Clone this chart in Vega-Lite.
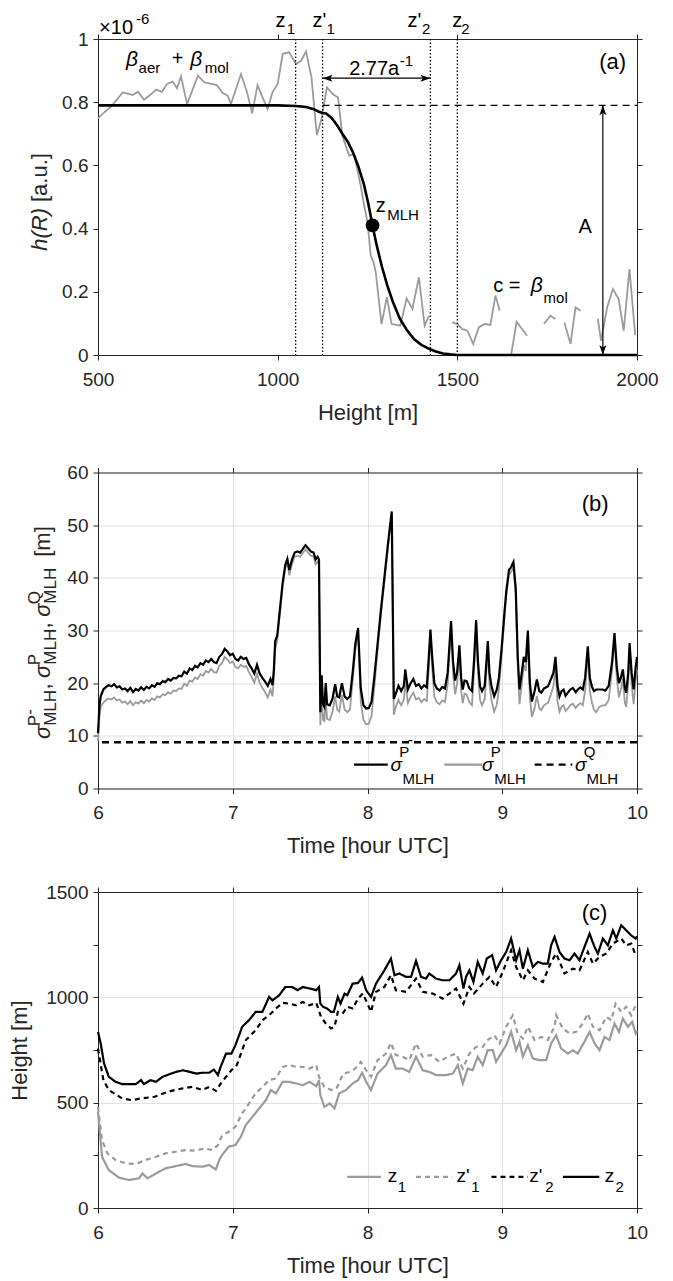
{
  "$schema": "https://vega.github.io/schema/vega-lite/v6.json",
  "background": "white",
  "padding": {"left": 8, "top": 10, "right": 5, "bottom": 2},
  "spacing": 26.5,
  "resolve": {"scale": {"color": "independent", "strokeDash": "independent", "shape": "independent"}},
  "config": {
    "font": "Liberation Sans",
    "view": {"stroke": null},
    "axis": {"domainColor": "#262626", "domainWidth": 1, "tickColor": "#262626", "tickSize": 5, "tickWidth": 1, "labelColor": "#262626", "labelFont": "Liberation Sans", "labelFontSize": 19, "titleColor": "#262626", "titleFont": "Liberation Sans", "titleFontSize": 22, "titleFontWeight": "normal", "grid": false, "gridColor": "#e2e2e2", "gridWidth": 1, "labelFlush": false, "labelOverlap": false},
    "axisX": {"labelPadding": 10, "titlePadding": 13},
    "axisY": {"labelPadding": 5, "titlePadding": 14},
    "text": {"font": "Liberation Sans", "color": "#000000"}
  },
  "datasets": {
    "betaA": [
      {"x":500,"y":0.749,"seg":1},{"x":509,"y":0.759,"seg":1},{"x":537,"y":0.787,"seg":1},{"x":569,"y":0.831,"seg":1},{"x":597,"y":0.823,"seg":1},{"x":611,"y":0.833,"seg":1},{"x":628,"y":0.808,"seg":1},{"x":643,"y":0.821,"seg":1},{"x":662,"y":0.84,"seg":1},{"x":678,"y":0.833,"seg":1},{"x":692,"y":0.858,"seg":1},{"x":708,"y":0.865,"seg":1},{"x":720,"y":0.844,"seg":1},{"x":731,"y":0.882,"seg":1},{"x":748,"y":0.794,"seg":1},{"x":778,"y":0.884,"seg":1},{"x":796,"y":0.863,"seg":1},{"x":815,"y":0.858,"seg":1},{"x":831,"y":0.854,"seg":1},{"x":847,"y":0.829,"seg":1},{"x":861,"y":0.821,"seg":1},{"x":870,"y":0.794,"seg":1},{"x":898,"y":0.889,"seg":1},{"x":915,"y":0.831,"seg":1},{"x":929,"y":0.765,"seg":1},{"x":944,"y":0.854,"seg":1},{"x":958,"y":0.815,"seg":1},{"x":972,"y":0.778,"seg":1},{"x":986,"y":0.833,"seg":1},{"x":1000,"y":0.858,"seg":1},{"x":1014,"y":0.953,"seg":1},{"x":1032,"y":0.958,"seg":1},{"x":1051,"y":0.921,"seg":1},{"x":1065,"y":0.931,"seg":1},{"x":1079,"y":0.96,"seg":1},{"x":1094,"y":0.879,"seg":1},{"x":1109,"y":0.696,"seg":1},{"x":1122,"y":0.747,"seg":1},{"x":1137,"y":0.847,"seg":1},{"x":1153,"y":0.826,"seg":1},{"x":1168,"y":0.815,"seg":1},{"x":1180,"y":0.694,"seg":1},{"x":1199,"y":0.631,"seg":1},{"x":1213,"y":0.636,"seg":1},{"x":1231,"y":0.536,"seg":1},{"x":1241,"y":0.472,"seg":1},{"x":1250,"y":0.42,"seg":1},{"x":1259,"y":0.314,"seg":1},{"x":1267,"y":0.293,"seg":1},{"x":1273,"y":0.262,"seg":1},{"x":1289,"y":0.098,"seg":1},{"x":1304,"y":0.183,"seg":1},{"x":1317,"y":0.098,"seg":1},{"x":1341,"y":0.093,"seg":1},{"x":1359,"y":0.179,"seg":1},{"x":1375,"y":0.146,"seg":1},{"x":1393,"y":0.246,"seg":1},{"x":1409,"y":0.093,"seg":1},{"x":1421,"y":0.124,"seg":1},
      {"x":1486,"y":0.103,"seg":2},{"x":1500,"y":0.098,"seg":2},{"x":1514,"y":0.082,"seg":2},{"x":1528,"y":0.077,"seg":2},{"x":1544,"y":0.035,"seg":2},{"x":1560,"y":0.088,"seg":2},{"x":1576,"y":0.098,"seg":2},{"x":1592,"y":0.095,"seg":2},{"x":1606,"y":0.188,"seg":2},{"x":1618,"y":0.14,"seg":2},
      {"x":1650,"y":0.003,"seg":3},{"x":1665,"y":0.105,"seg":3},{"x":1694,"y":0.061,"seg":3},
      {"x":1741,"y":0.098,"seg":4},{"x":1759,"y":0.124,"seg":4},{"x":1773,"y":0.114,"seg":4},
      {"x":1798,"y":0.103,"seg":5},{"x":1815,"y":0.035,"seg":5},{"x":1829,"y":0.151,"seg":5},{"x":1843,"y":0.14,"seg":5},
      {"x":1891,"y":0.114,"seg":6},{"x":1900,"y":0.045,"seg":6},{"x":1917,"y":0.151,"seg":6},{"x":1933,"y":0.209,"seg":6},{"x":1949,"y":0.177,"seg":6},{"x":1963,"y":0.077,"seg":6},{"x":1979,"y":0.272,"seg":6},{"x":1995,"y":0.063,"seg":6}
    ],
    "fitA": [
      {"x":500,"y":0.79},{"x":1000,"y":0.79},{"x":1050,"y":0.788},{"x":1080,"y":0.785},{"x":1100,"y":0.778},{"x":1115,"y":0.77},{"x":1125,"y":0.766},{"x":1135,"y":0.764},{"x":1150,"y":0.75},{"x":1165,"y":0.728},{"x":1180,"y":0.7},{"x":1195,"y":0.675},{"x":1210,"y":0.64},{"x":1225,"y":0.595},{"x":1240,"y":0.54},{"x":1252,"y":0.48},{"x":1264,"y":0.41},{"x":1275,"y":0.35},{"x":1290,"y":0.28},{"x":1305,"y":0.22},{"x":1320,"y":0.17},{"x":1340,"y":0.115},{"x":1360,"y":0.078},{"x":1380,"y":0.05},{"x":1400,"y":0.032},{"x":1420,"y":0.02},{"x":1440,"y":0.011},{"x":1460,"y":0.005},{"x":1480,"y":0.002},{"x":1500,"y":0.0},{"x":2000,"y":0.0}
    ],
    "sigB": [
      {"t":6.0,"pm":10.5,"p":9.0},{"t":6.01,"pm":15.5,"p":13.5},{"t":6.02,"pm":17.5,"p":15.5},{"t":6.04,"pm":18.8,"p":16.3},{"t":6.06,"pm":19.3,"p":16.8},{"t":6.08,"pm":19.6,"p":17.1},{"t":6.1,"pm":19.4,"p":16.9},{"t":6.12,"pm":19.8,"p":17.3},{"t":6.14,"pm":19.2,"p":16.7},{"t":6.16,"pm":19.4,"p":16.9},{"t":6.18,"pm":18.8,"p":16.3},{"t":6.2,"pm":19.0,"p":16.5},{"t":6.22,"pm":18.5,"p":16.0},{"t":6.24,"pm":19.1,"p":16.6},{"t":6.26,"pm":18.3,"p":15.8},{"t":6.28,"pm":18.9,"p":16.4},{"t":6.3,"pm":18.6,"p":16.1},{"t":6.32,"pm":19.2,"p":16.7},{"t":6.34,"pm":18.7,"p":16.2},{"t":6.36,"pm":19.3,"p":16.8},{"t":6.38,"pm":19.0,"p":16.5},{"t":6.4,"pm":19.6,"p":17.1},{"t":6.42,"pm":19.3,"p":16.8},{"t":6.44,"pm":20.0,"p":17.5},{"t":6.46,"pm":19.8,"p":17.3},{"t":6.48,"pm":20.4,"p":17.9},{"t":6.5,"pm":20.2,"p":17.7},{"t":6.52,"pm":20.8,"p":18.3},{"t":6.54,"pm":20.5,"p":18.0},{"t":6.56,"pm":21.0,"p":18.6},{"t":6.58,"pm":20.9,"p":18.5},{"t":6.6,"pm":21.4,"p":19.0},{"t":6.62,"pm":21.3,"p":18.9},{"t":6.64,"pm":22.2,"p":19.9},{"t":6.66,"pm":21.8,"p":19.5},{"t":6.68,"pm":22.8,"p":20.5},{"t":6.7,"pm":22.5,"p":20.3},{"t":6.72,"pm":23.3,"p":21.1},{"t":6.74,"pm":23.0,"p":20.8},{"t":6.76,"pm":23.8,"p":21.7},{"t":6.78,"pm":23.5,"p":21.4},{"t":6.8,"pm":24.3,"p":22.3},{"t":6.82,"pm":24.0,"p":22.0},{"t":6.84,"pm":24.6,"p":22.7},{"t":6.86,"pm":24.0,"p":22.1},{"t":6.88,"pm":23.8,"p":22.0},{"t":6.9,"pm":25.0,"p":23.3},{"t":6.92,"pm":25.5,"p":23.8},{"t":6.94,"pm":26.5,"p":25.0},{"t":6.96,"pm":26.0,"p":24.5},{"t":6.98,"pm":25.3,"p":23.8},{"t":7.0,"pm":25.6,"p":24.1},{"t":7.02,"pm":24.6,"p":23.1},{"t":7.04,"pm":24.3,"p":22.8},{"t":7.06,"pm":25.0,"p":23.5},{"t":7.08,"pm":24.6,"p":23.1},{"t":7.1,"pm":24.8,"p":23.3},{"t":7.12,"pm":23.6,"p":22.1},{"t":7.14,"pm":22.8,"p":21.2},{"t":7.16,"pm":21.8,"p":20.1},{"t":7.18,"pm":23.5,"p":21.8},{"t":7.2,"pm":21.8,"p":20.0},{"t":7.22,"pm":21.0,"p":19.1},{"t":7.24,"pm":20.3,"p":18.3},{"t":7.26,"pm":19.5,"p":17.3},{"t":7.28,"pm":20.8,"p":18.8},{"t":7.295,"pm":19.6,"p":17.5},{"t":7.305,"pm":22.5,"p":21.0},{"t":7.315,"pm":28.0,"p":26.5},{"t":7.33,"pm":29.0,"p":28.0},{"t":7.35,"pm":34.0,"p":33.2},{"t":7.37,"pm":39.0,"p":38.3},{"t":7.39,"pm":42.5,"p":41.8},{"t":7.405,"pm":43.6,"p":42.8},{"t":7.42,"pm":41.5,"p":40.5},{"t":7.44,"pm":43.5,"p":42.7},{"t":7.46,"pm":44.8,"p":44.0},{"t":7.48,"pm":45.0,"p":44.2},{"t":7.5,"pm":44.8,"p":44.0},{"t":7.52,"pm":45.5,"p":44.7},{"t":7.54,"pm":46.2,"p":45.4},{"t":7.56,"pm":45.6,"p":44.8},{"t":7.58,"pm":45.0,"p":44.2},{"t":7.6,"pm":44.8,"p":44.0},{"t":7.615,"pm":43.5,"p":42.6},{"t":7.63,"pm":44.0,"p":43.1},{"t":7.64,"pm":43.5,"p":42.5},{"t":7.65,"pm":14.5,"p":12.0},{"t":7.66,"pm":21.5,"p":19.0},{"t":7.67,"pm":16.0,"p":13.0},{"t":7.68,"pm":15.5,"p":12.8},{"t":7.69,"pm":20.0,"p":17.2},{"t":7.7,"pm":16.0,"p":13.2},{"t":7.72,"pm":15.8,"p":13.0},{"t":7.74,"pm":17.0,"p":14.5},{"t":7.76,"pm":19.8,"p":17.5},{"t":7.775,"pm":17.5,"p":15.0},{"t":7.79,"pm":17.3,"p":14.6},{"t":7.81,"pm":20.0,"p":17.8},{"t":7.83,"pm":17.5,"p":15.0},{"t":7.85,"pm":17.0,"p":14.5},{"t":7.87,"pm":17.5,"p":15.0},{"t":7.89,"pm":22.0,"p":20.5},{"t":7.91,"pm":27.5,"p":26.5},{"t":7.93,"pm":30.5,"p":29.8},{"t":7.95,"pm":19.0,"p":16.5},{"t":7.97,"pm":15.8,"p":13.0},{"t":7.99,"pm":15.2,"p":12.2},{"t":8.01,"pm":15.3,"p":12.3},{"t":8.03,"pm":16.5,"p":13.8},{"t":8.05,"pm":21.0,"p":19.0},{"t":8.075,"pm":27.5,"p":26.3},{"t":8.1,"pm":34.0,"p":33.0},{"t":8.125,"pm":40.0,"p":39.2},{"t":8.15,"pm":46.0,"p":45.3},{"t":8.17,"pm":50.5,"p":49.9},{"t":8.18,"pm":52.6,"p":52.0},{"t":8.195,"pm":17.0,"p":14.0},{"t":8.21,"pm":18.0,"p":15.5},{"t":8.23,"pm":19.5,"p":16.8},{"t":8.25,"pm":18.5,"p":15.8},{"t":8.27,"pm":19.5,"p":16.9},{"t":8.28,"pm":22.6,"p":20.3},{"t":8.3,"pm":18.8,"p":16.2},{"t":8.32,"pm":20.0,"p":17.4},{"t":8.34,"pm":20.8,"p":18.2},{"t":8.36,"pm":19.5,"p":16.9},{"t":8.38,"pm":19.8,"p":17.2},{"t":8.4,"pm":19.0,"p":16.4},{"t":8.42,"pm":19.6,"p":17.0},{"t":8.44,"pm":19.2,"p":16.6},{"t":8.455,"pm":25.0,"p":23.0},{"t":8.467,"pm":30.2,"p":29.4},{"t":8.48,"pm":25.0,"p":23.0},{"t":8.496,"pm":20.0,"p":17.4},{"t":8.515,"pm":19.0,"p":16.4},{"t":8.535,"pm":18.6,"p":16.0},{"t":8.555,"pm":19.3,"p":16.7},{"t":8.575,"pm":19.0,"p":16.4},{"t":8.595,"pm":22.0,"p":19.8},{"t":8.62,"pm":31.8,"p":31.0},{"t":8.635,"pm":24.0,"p":22.0},{"t":8.65,"pm":20.5,"p":17.9},{"t":8.665,"pm":22.0,"p":19.8},{"t":8.682,"pm":27.2,"p":26.2},{"t":8.695,"pm":21.0,"p":18.6},{"t":8.707,"pm":18.8,"p":16.2},{"t":8.72,"pm":20.5,"p":18.0},{"t":8.736,"pm":20.4,"p":17.8},{"t":8.755,"pm":19.0,"p":16.4},{"t":8.775,"pm":18.5,"p":15.8},{"t":8.79,"pm":24.0,"p":22.0},{"t":8.806,"pm":32.0,"p":31.2},{"t":8.82,"pm":24.0,"p":22.0},{"t":8.835,"pm":19.4,"p":16.8},{"t":8.85,"pm":18.5,"p":15.8},{"t":8.87,"pm":19.5,"p":17.0},{"t":8.893,"pm":28.0,"p":26.8},{"t":8.905,"pm":22.0,"p":19.8},{"t":8.92,"pm":19.4,"p":16.8},{"t":8.94,"pm":17.5,"p":14.6},{"t":8.96,"pm":18.8,"p":16.0},{"t":8.975,"pm":21.0,"p":18.8},{"t":8.995,"pm":26.5,"p":25.3},{"t":9.015,"pm":33.0,"p":32.0},{"t":9.03,"pm":37.5,"p":36.6},{"t":9.05,"pm":41.5,"p":40.6},{"t":9.065,"pm":42.0,"p":41.1},{"t":9.083,"pm":43.0,"p":42.0},{"t":9.1,"pm":38.0,"p":37.0},{"t":9.115,"pm":25.0,"p":23.5},{"t":9.128,"pm":18.8,"p":16.0},{"t":9.145,"pm":22.0,"p":19.8},{"t":9.16,"pm":25.0,"p":23.5},{"t":9.175,"pm":24.0,"p":22.3},{"t":9.19,"pm":30.0,"p":29.2},{"t":9.205,"pm":20.0,"p":17.3},{"t":9.22,"pm":16.5,"p":13.6},{"t":9.24,"pm":18.5,"p":15.3},{"t":9.257,"pm":20.7,"p":17.6},{"t":9.275,"pm":18.5,"p":15.2},{"t":9.29,"pm":18.2,"p":14.9},{"t":9.31,"pm":19.0,"p":15.8},{"t":9.34,"pm":19.4,"p":16.3},{"t":9.365,"pm":21.0,"p":18.2},{"t":9.38,"pm":22.0,"p":19.5},{"t":9.395,"pm":25.0,"p":23.0},{"t":9.41,"pm":19.5,"p":16.6},{"t":9.425,"pm":17.5,"p":14.6},{"t":9.44,"pm":18.5,"p":15.5},{"t":9.455,"pm":18.8,"p":15.8},{"t":9.47,"pm":17.6,"p":14.7},{"t":9.487,"pm":18.2,"p":15.2},{"t":9.505,"pm":18.8,"p":15.8},{"t":9.524,"pm":19.1,"p":16.1},{"t":9.545,"pm":18.3,"p":15.3},{"t":9.561,"pm":18.8,"p":15.8},{"t":9.58,"pm":19.2,"p":16.2},{"t":9.598,"pm":18.8,"p":15.8},{"t":9.615,"pm":21.0,"p":18.6},{"t":9.635,"pm":27.0,"p":26.0},{"t":9.65,"pm":21.0,"p":18.5},{"t":9.665,"pm":19.4,"p":16.4},{"t":9.68,"pm":18.5,"p":15.0},{"t":9.697,"pm":18.8,"p":14.5},{"t":9.72,"pm":18.8,"p":15.5},{"t":9.745,"pm":18.8,"p":15.8},{"t":9.765,"pm":18.6,"p":15.8},{"t":9.79,"pm":19.5,"p":16.8},{"t":9.815,"pm":24.0,"p":22.5},{"t":9.833,"pm":29.5,"p":28.7},{"t":9.85,"pm":23.0,"p":21.0},{"t":9.866,"pm":20.0,"p":17.3},{"t":9.88,"pm":21.0,"p":18.8},{"t":9.895,"pm":22.6,"p":20.8},{"t":9.91,"pm":19.0,"p":16.3},{"t":9.92,"pm":18.2,"p":15.5},{"t":9.935,"pm":22.0,"p":20.0},{"t":9.945,"pm":27.6,"p":26.6},{"t":9.96,"pm":22.0,"p":19.8},{"t":9.975,"pm":18.8,"p":16.0},{"t":9.99,"pm":23.0,"p":20.5},{"t":10.0,"pm":25.0,"p":22.5}
    ],
    "zC": [
      {"s":"z2","t":6.0,"h":836},{"s":"z2","t":6.02,"h":781},{"s":"z2","t":6.045,"h":686},{"s":"z2","t":6.08,"h":623},{"s":"z2","t":6.13,"h":599},{"s":"z2","t":6.18,"h":588},{"s":"z2","t":6.23,"h":588},{"s":"z2","t":6.28,"h":588},{"s":"z2","t":6.32,"h":607},{"s":"z2","t":6.34,"h":588},{"s":"z2","t":6.39,"h":607},{"s":"z2","t":6.43,"h":599},{"s":"z2","t":6.48,"h":623},{"s":"z2","t":6.53,"h":635},{"s":"z2","t":6.58,"h":646},{"s":"z2","t":6.63,"h":654},{"s":"z2","t":6.68,"h":646},{"s":"z2","t":6.73,"h":638},{"s":"z2","t":6.775,"h":642},{"s":"z2","t":6.825,"h":642},{"s":"z2","t":6.86,"h":657},{"s":"z2","t":6.89,"h":631},{"s":"z2","t":6.91,"h":670},{"s":"z2","t":6.95,"h":733},{"s":"z2","t":6.99,"h":733},{"s":"z2","t":7.02,"h":773},{"s":"z2","t":7.07,"h":860},{"s":"z2","t":7.12,"h":891},{"s":"z2","t":7.17,"h":931},{"s":"z2","t":7.22,"h":931},{"s":"z2","t":7.27,"h":1002},{"s":"z2","t":7.295,"h":986},{"s":"z2","t":7.345,"h":1010},{"s":"z2","t":7.39,"h":1049},{"s":"z2","t":7.44,"h":1049},{"s":"z2","t":7.48,"h":1034},{"s":"z2","t":7.52,"h":1049},{"s":"z2","t":7.57,"h":1042},{"s":"z2","t":7.62,"h":1034},{"s":"z2","t":7.64,"h":1049},{"s":"z2","t":7.65,"h":970},{"s":"z2","t":7.67,"h":955},{"s":"z2","t":7.7,"h":947},{"s":"z2","t":7.73,"h":931},{"s":"z2","t":7.75,"h":931},{"s":"z2","t":7.78,"h":1002},{"s":"z2","t":7.8,"h":970},{"s":"z2","t":7.83,"h":1018},{"s":"z2","t":7.85,"h":1010},{"s":"z2","t":7.89,"h":1065},{"s":"z2","t":7.93,"h":1068},{"s":"z2","t":7.96,"h":1094},{"s":"z2","t":7.99,"h":1034},{"s":"z2","t":8.026,"h":1002},{"s":"z2","t":8.063,"h":1065},{"s":"z2","t":8.125,"h":1128},{"s":"z2","t":8.174,"h":1184},{"s":"z2","t":8.2,"h":1105},{"s":"z2","t":8.236,"h":1113},{"s":"z2","t":8.286,"h":1097},{"s":"z2","t":8.323,"h":1097},{"s":"z2","t":8.36,"h":1173},{"s":"z2","t":8.397,"h":1097},{"s":"z2","t":8.434,"h":1089},{"s":"z2","t":8.459,"h":1113},{"s":"z2","t":8.509,"h":1089},{"s":"z2","t":8.558,"h":1081},{"s":"z2","t":8.608,"h":1081},{"s":"z2","t":8.657,"h":1113},{"s":"z2","t":8.682,"h":1152},{"s":"z2","t":8.712,"h":1042},{"s":"z2","t":8.731,"h":1097},{"s":"z2","t":8.756,"h":1128},{"s":"z2","t":8.786,"h":1073},{"s":"z2","t":8.818,"h":1168},{"s":"z2","t":8.855,"h":1113},{"s":"z2","t":8.885,"h":1184},{"s":"z2","t":8.925,"h":1200},{"s":"z2","t":8.954,"h":1128},{"s":"z2","t":8.991,"h":1176},{"s":"z2","t":9.029,"h":1215},{"s":"z2","t":9.066,"h":1279},{"s":"z2","t":9.103,"h":1176},{"s":"z2","t":9.128,"h":1223},{"s":"z2","t":9.153,"h":1136},{"s":"z2","t":9.19,"h":1223},{"s":"z2","t":9.227,"h":1144},{"s":"z2","t":9.264,"h":1168},{"s":"z2","t":9.301,"h":1160},{"s":"z2","t":9.338,"h":1160},{"s":"z2","t":9.363,"h":1247},{"s":"z2","t":9.388,"h":1287},{"s":"z2","t":9.425,"h":1215},{"s":"z2","t":9.462,"h":1184},{"s":"z2","t":9.5,"h":1176},{"s":"z2","t":9.536,"h":1208},{"s":"z2","t":9.573,"h":1176},{"s":"z2","t":9.61,"h":1239},{"s":"z2","t":9.648,"h":1302},{"s":"z2","t":9.685,"h":1239},{"s":"z2","t":9.71,"h":1208},{"s":"z2","t":9.747,"h":1279},{"s":"z2","t":9.784,"h":1247},{"s":"z2","t":9.821,"h":1318},{"s":"z2","t":9.846,"h":1279},{"s":"z2","t":9.883,"h":1342},{"s":"z2","t":9.92,"h":1318},{"s":"z2","t":9.957,"h":1294},{"s":"z2","t":9.99,"h":1279},{"s":"z2","t":10.0,"h":1290},
      {"s":"z2p","t":6.0,"h":757},{"s":"z2p","t":6.04,"h":607},{"s":"z2p","t":6.08,"h":560},{"s":"z2p","t":6.18,"h":520},{"s":"z2p","t":6.25,"h":512},{"s":"z2p","t":6.32,"h":520},{"s":"z2p","t":6.42,"h":528},{"s":"z2p","t":6.52,"h":552},{"s":"z2p","t":6.62,"h":567},{"s":"z2p","t":6.7,"h":575},{"s":"z2p","t":6.775,"h":560},{"s":"z2p","t":6.825,"h":575},{"s":"z2p","t":6.875,"h":556},{"s":"z2p","t":6.92,"h":599},{"s":"z2p","t":6.99,"h":654},{"s":"z2p","t":7.03,"h":678},{"s":"z2p","t":7.097,"h":797},{"s":"z2p","t":7.17,"h":844},{"s":"z2p","t":7.22,"h":891},{"s":"z2p","t":7.283,"h":923},{"s":"z2p","t":7.32,"h":947},{"s":"z2p","t":7.37,"h":974},{"s":"z2p","t":7.42,"h":970},{"s":"z2p","t":7.47,"h":962},{"s":"z2p","t":7.52,"h":978},{"s":"z2p","t":7.57,"h":962},{"s":"z2p","t":7.62,"h":974},{"s":"z2p","t":7.655,"h":907},{"s":"z2p","t":7.69,"h":876},{"s":"z2p","t":7.73,"h":852},{"s":"z2p","t":7.755,"h":860},{"s":"z2p","t":7.78,"h":931},{"s":"z2p","t":7.815,"h":923},{"s":"z2p","t":7.85,"h":955},{"s":"z2p","t":7.89,"h":947},{"s":"z2p","t":7.93,"h":994},{"s":"z2p","t":7.965,"h":1018},{"s":"z2p","t":8.0,"h":970},{"s":"z2p","t":8.026,"h":931},{"s":"z2p","t":8.063,"h":1026},{"s":"z2p","t":8.125,"h":1049},{"s":"z2p","t":8.174,"h":1105},{"s":"z2p","t":8.21,"h":1034},{"s":"z2p","t":8.286,"h":1026},{"s":"z2p","t":8.36,"h":1089},{"s":"z2p","t":8.41,"h":1026},{"s":"z2p","t":8.484,"h":1018},{"s":"z2p","t":8.558,"h":994},{"s":"z2p","t":8.608,"h":1018},{"s":"z2p","t":8.657,"h":1042},{"s":"z2p","t":8.712,"h":970},{"s":"z2p","t":8.756,"h":1049},{"s":"z2p","t":8.79,"h":1018},{"s":"z2p","t":8.855,"h":1065},{"s":"z2p","t":8.905,"h":1097},{"s":"z2p","t":8.954,"h":1049},{"s":"z2p","t":9.004,"h":1121},{"s":"z2p","t":9.066,"h":1223},{"s":"z2p","t":9.103,"h":1144},{"s":"z2p","t":9.153,"h":1081},{"s":"z2p","t":9.19,"h":1128},{"s":"z2p","t":9.24,"h":1089},{"s":"z2p","t":9.301,"h":1073},{"s":"z2p","t":9.363,"h":1168},{"s":"z2p","t":9.4,"h":1208},{"s":"z2p","t":9.462,"h":1113},{"s":"z2p","t":9.524,"h":1136},{"s":"z2p","t":9.573,"h":1128},{"s":"z2p","t":9.635,"h":1215},{"s":"z2p","t":9.673,"h":1160},{"s":"z2p","t":9.722,"h":1192},{"s":"z2p","t":9.772,"h":1208},{"s":"z2p","t":9.821,"h":1255},{"s":"z2p","t":9.883,"h":1279},{"s":"z2p","t":9.92,"h":1247},{"s":"z2p","t":9.957,"h":1255},{"s":"z2p","t":9.99,"h":1200},
      {"s":"z1","t":6.0,"h":457},{"s":"z1","t":6.03,"h":243},{"s":"z1","t":6.08,"h":180},{"s":"z1","t":6.156,"h":144},{"s":"z1","t":6.23,"h":133},{"s":"z1","t":6.305,"h":141},{"s":"z1","t":6.33,"h":164},{"s":"z1","t":6.367,"h":141},{"s":"z1","t":6.43,"h":164},{"s":"z1","t":6.5,"h":188},{"s":"z1","t":6.577,"h":199},{"s":"z1","t":6.65,"h":209},{"s":"z1","t":6.7,"h":199},{"s":"z1","t":6.775,"h":196},{"s":"z1","t":6.825,"h":204},{"s":"z1","t":6.874,"h":183},{"s":"z1","t":6.9,"h":228},{"s":"z1","t":6.92,"h":251},{"s":"z1","t":6.97,"h":291},{"s":"z1","t":7.02,"h":299},{"s":"z1","t":7.06,"h":338},{"s":"z1","t":7.097,"h":394},{"s":"z1","t":7.147,"h":433},{"s":"z1","t":7.196,"h":473},{"s":"z1","t":7.246,"h":512},{"s":"z1","t":7.283,"h":560},{"s":"z1","t":7.32,"h":544},{"s":"z1","t":7.37,"h":599},{"s":"z1","t":7.42,"h":599},{"s":"z1","t":7.47,"h":591},{"s":"z1","t":7.52,"h":583},{"s":"z1","t":7.57,"h":599},{"s":"z1","t":7.62,"h":578},{"s":"z1","t":7.64,"h":607},{"s":"z1","t":7.65,"h":536},{"s":"z1","t":7.68,"h":480},{"s":"z1","t":7.72,"h":496},{"s":"z1","t":7.755,"h":473},{"s":"z1","t":7.79,"h":544},{"s":"z1","t":7.84,"h":560},{"s":"z1","t":7.89,"h":591},{"s":"z1","t":7.93,"h":607},{"s":"z1","t":7.96,"h":642},{"s":"z1","t":7.99,"h":599},{"s":"z1","t":8.026,"h":560},{"s":"z1","t":8.075,"h":638},{"s":"z1","t":8.137,"h":678},{"s":"z1","t":8.174,"h":726},{"s":"z1","t":8.21,"h":662},{"s":"z1","t":8.26,"h":662},{"s":"z1","t":8.31,"h":646},{"s":"z1","t":8.36,"h":718},{"s":"z1","t":8.41,"h":654},{"s":"z1","t":8.459,"h":646},{"s":"z1","t":8.509,"h":631},{"s":"z1","t":8.583,"h":631},{"s":"z1","t":8.633,"h":638},{"s":"z1","t":8.67,"h":678},{"s":"z1","t":8.707,"h":591},{"s":"z1","t":8.744,"h":662},{"s":"z1","t":8.78,"h":654},{"s":"z1","t":8.818,"h":718},{"s":"z1","t":8.855,"h":678},{"s":"z1","t":8.892,"h":749},{"s":"z1","t":8.93,"h":749},{"s":"z1","t":8.954,"h":694},{"s":"z1","t":8.991,"h":733},{"s":"z1","t":9.029,"h":773},{"s":"z1","t":9.066,"h":836},{"s":"z1","t":9.103,"h":749},{"s":"z1","t":9.128,"h":789},{"s":"z1","t":9.153,"h":718},{"s":"z1","t":9.19,"h":773},{"s":"z1","t":9.227,"h":710},{"s":"z1","t":9.276,"h":702},{"s":"z1","t":9.326,"h":702},{"s":"z1","t":9.363,"h":781},{"s":"z1","t":9.4,"h":820},{"s":"z1","t":9.437,"h":757},{"s":"z1","t":9.487,"h":733},{"s":"z1","t":9.524,"h":749},{"s":"z1","t":9.56,"h":733},{"s":"z1","t":9.61,"h":789},{"s":"z1","t":9.648,"h":836},{"s":"z1","t":9.685,"h":781},{"s":"z1","t":9.722,"h":749},{"s":"z1","t":9.759,"h":812},{"s":"z1","t":9.796,"h":797},{"s":"z1","t":9.833,"h":876},{"s":"z1","t":9.866,"h":836},{"s":"z1","t":9.895,"h":899},{"s":"z1","t":9.933,"h":860},{"s":"z1","t":9.965,"h":884},{"s":"z1","t":9.99,"h":828},{"s":"z1","t":10.0,"h":840},
      {"s":"z1p","t":6.0,"h":480},{"s":"z1p","t":6.03,"h":322},{"s":"z1p","t":6.07,"h":259},{"s":"z1p","t":6.13,"h":228},{"s":"z1p","t":6.205,"h":212},{"s":"z1p","t":6.28,"h":209},{"s":"z1p","t":6.354,"h":228},{"s":"z1p","t":6.43,"h":243},{"s":"z1p","t":6.5,"h":259},{"s":"z1p","t":6.577,"h":267},{"s":"z1p","t":6.65,"h":275},{"s":"z1p","t":6.725,"h":272},{"s":"z1p","t":6.79,"h":283},{"s":"z1p","t":6.85,"h":275},{"s":"z1p","t":6.89,"h":299},{"s":"z1p","t":6.92,"h":343},{"s":"z1p","t":6.97,"h":362},{"s":"z1p","t":7.02,"h":386},{"s":"z1p","t":7.07,"h":449},{"s":"z1p","t":7.12,"h":496},{"s":"z1p","t":7.17,"h":544},{"s":"z1p","t":7.22,"h":575},{"s":"z1p","t":7.27,"h":607},{"s":"z1p","t":7.32,"h":615},{"s":"z1p","t":7.37,"h":670},{"s":"z1p","t":7.42,"h":678},{"s":"z1p","t":7.47,"h":670},{"s":"z1p","t":7.52,"h":670},{"s":"z1p","t":7.57,"h":662},{"s":"z1p","t":7.62,"h":678},{"s":"z1p","t":7.64,"h":623},{"s":"z1p","t":7.68,"h":575},{"s":"z1p","t":7.73,"h":560},{"s":"z1p","t":7.77,"h":567},{"s":"z1p","t":7.82,"h":638},{"s":"z1p","t":7.87,"h":646},{"s":"z1p","t":7.91,"h":662},{"s":"z1p","t":7.95,"h":694},{"s":"z1p","t":7.99,"h":654},{"s":"z1p","t":8.026,"h":623},{"s":"z1p","t":8.075,"h":702},{"s":"z1p","t":8.137,"h":733},{"s":"z1p","t":8.174,"h":784},{"s":"z1p","t":8.21,"h":726},{"s":"z1p","t":8.26,"h":718},{"s":"z1p","t":8.31,"h":702},{"s":"z1p","t":8.36,"h":781},{"s":"z1p","t":8.41,"h":718},{"s":"z1p","t":8.47,"h":726},{"s":"z1p","t":8.533,"h":694},{"s":"z1p","t":8.595,"h":718},{"s":"z1p","t":8.657,"h":733},{"s":"z1p","t":8.707,"h":662},{"s":"z1p","t":8.756,"h":733},{"s":"z1p","t":8.806,"h":765},{"s":"z1p","t":8.855,"h":765},{"s":"z1p","t":8.892,"h":797},{"s":"z1p","t":8.942,"h":820},{"s":"z1p","t":8.98,"h":781},{"s":"z1p","t":9.029,"h":860},{"s":"z1p","t":9.078,"h":915},{"s":"z1p","t":9.115,"h":828},{"s":"z1p","t":9.153,"h":804},{"s":"z1p","t":9.19,"h":860},{"s":"z1p","t":9.24,"h":797},{"s":"z1p","t":9.29,"h":812},{"s":"z1p","t":9.338,"h":797},{"s":"z1p","t":9.388,"h":860},{"s":"z1p","t":9.4,"h":915},{"s":"z1p","t":9.45,"h":852},{"s":"z1p","t":9.5,"h":828},{"s":"z1p","t":9.548,"h":836},{"s":"z1p","t":9.598,"h":876},{"s":"z1p","t":9.635,"h":923},{"s":"z1p","t":9.673,"h":860},{"s":"z1p","t":9.722,"h":844},{"s":"z1p","t":9.772,"h":907},{"s":"z1p","t":9.809,"h":891},{"s":"z1p","t":9.841,"h":970},{"s":"z1p","t":9.883,"h":931},{"s":"z1p","t":9.92,"h":955},{"s":"z1p","t":9.957,"h":915},{"s":"z1p","t":9.99,"h":962}
    ]
  },
  "vconcat": [
    {
      "width": 539, "height": 316,
      "resolve": {"axis": {"x": "independent", "y": "independent"}},
      "layer": [
        {"data": {"name": "betaA"}, "mark": {"type": "line", "color": "#9b9b9b", "strokeWidth": 1.8},
         "encoding": {
           "x": {"field": "x", "type": "quantitative", "scale": {"domain": [500, 2000], "nice": false, "zero": false}, "axis": {"values": [500, 1000, 1500, 2000], "format": "d", "title": ["Height [m]", " "], "titleLineHeight": 14}},
           "y": {"field": "y", "type": "quantitative", "scale": {"domain": [0, 1], "nice": false, "zero": false}, "axis": {"values": [0, 0.2, 0.4, 0.6, 0.8, 1], "format": "~g", "title": null}},
           "detail": {"field": "seg", "type": "nominal"}}},
        {"data": {"values": [{"x": 1050}, {"x": 1125}, {"x": 1425}, {"x": 1500}]}, "mark": {"type": "rule", "color": "#000000", "strokeWidth": 1.3, "strokeDash": [1.5, 2]},
         "encoding": {"x": {"field": "x", "type": "quantitative", "axis": null}}},
        {"data": {"values": [{"x": 1125, "x2": 2000, "y": 0.79}]}, "mark": {"type": "rule", "color": "#000000", "strokeWidth": 1.4, "strokeDash": [7, 5]},
         "encoding": {"x": {"field": "x", "type": "quantitative", "axis": null}, "x2": {"field": "x2"}, "y": {"field": "y", "type": "quantitative", "axis": null}}},
        {"data": {"name": "fitA"}, "mark": {"type": "line", "color": "#000000", "strokeWidth": 2.6},
         "encoding": {
           "x": {"field": "x", "type": "quantitative", "axis": {"orient": "top", "values": [500, 1000, 1500, 2000], "labels": false, "title": null}},
           "y": {"field": "y", "type": "quantitative", "axis": {"orient": "right", "values": [0, 0.2, 0.4, 0.6, 0.8, 1], "labels": false, "title": null}}}},
        {"data": {"values": [{"x": 1125, "x2": 1425, "y": 0.876, "y2": 0.876}, {"x": 1905, "x2": 1905, "y": 0, "y2": 0.79}]}, "mark": {"type": "rule", "color": "#000000", "strokeWidth": 1.2},
         "encoding": {"x": {"field": "x", "type": "quantitative", "axis": null}, "x2": {"field": "x2"}, "y": {"field": "y", "type": "quantitative", "axis": null}, "y2": {"field": "y2"}}},
        {"data": {"values": [{"x": 1125, "y": 0.876, "dir": "left"}, {"x": 1425, "y": 0.876, "dir": "right"}, {"x": 1905, "y": 0.79, "dir": "up"}, {"x": 1905, "y": 0, "dir": "down"}]},
         "mark": {"type": "point", "filled": true, "color": "#000000", "opacity": 1, "size": 400, "strokeWidth": 0},
         "encoding": {"x": {"field": "x", "type": "quantitative", "axis": null}, "y": {"field": "y", "type": "quantitative", "axis": null},
           "shape": {"field": "dir", "type": "nominal", "legend": null, "scale": {"domain": ["up", "down", "left", "right"], "range": ["M0,0L0.35,1L0,0.75L-0.35,1Z", "M0,0L0.35,-1L0,-0.75L-0.35,-1Z", "M0,0L1,0.35L0.75,0L1,-0.35Z", "M0,0L-1,0.35L-0.75,0L-1,-0.35Z"]}}}},
        {"data": {"values": [{"x": 1264, "y": 0.41}]}, "mark": {"type": "point", "filled": true, "color": "#000000", "opacity": 1, "size": 190},
         "encoding": {"x": {"field": "x", "type": "quantitative", "axis": null}, "y": {"field": "y", "type": "quantitative", "axis": null}}},
        {"data": {"values": [{"x": 705, "y": 0.918, "label": "+"}, {"x": 994, "y": 1.038, "label": "z"}, {"x": 1097, "y": 1.038, "label": "z'"}, {"x": 1361, "y": 1.038, "label": "z'"}, {"x": 1486, "y": 1.038, "label": "z"}, {"x": 1600, "y": 0.198, "label": "c ="}, {"x": 1837, "y": 0.386, "label": "A"}, {"x": 503, "y": 1.016, "label": "×10"}, {"x": 1199, "y": 0.885, "label": "2.77a"}, {"x": 1273, "y": 0.452, "label": "z"}]},
         "mark": {"type": "text", "align": "left", "baseline": "alphabetic", "fontSize": 20},
         "encoding": {"x": {"field": "x", "type": "quantitative", "axis": null}, "y": {"field": "y", "type": "quantitative", "axis": null}, "text": {"field": "label"}}},
        {"data": {"values": [{"x": 1895, "y": 0.905, "label": "(a)"}]},
         "mark": {"type": "text", "align": "left", "baseline": "alphabetic", "fontSize": 22},
         "encoding": {"x": {"field": "x", "type": "quantitative", "axis": null}, "y": {"field": "y", "type": "quantitative", "axis": null}, "text": {"field": "label"}}},
        {"data": {"values": [{"x": 613, "y": 0.893, "label": "aer"}, {"x": 797, "y": 0.893, "label": "mol"}, {"x": 1025, "y": 1.016, "label": "1"}, {"x": 1136, "y": 1.016, "label": "1"}, {"x": 1402, "y": 1.016, "label": "2"}, {"x": 1511, "y": 1.016, "label": "2"}, {"x": 606, "y": 1.047, "label": "-6"}, {"x": 1340, "y": 0.915, "label": "-1"}, {"x": 1305, "y": 0.428, "label": "MLH"}, {"x": 1740, "y": 0.165, "label": "mol"}]},
         "mark": {"type": "text", "align": "left", "baseline": "alphabetic", "fontSize": 15},
         "encoding": {"x": {"field": "x", "type": "quantitative", "axis": null}, "y": {"field": "y", "type": "quantitative", "axis": null}, "text": {"field": "label"}}},
        {"data": {"values": [{"x": 578, "y": 0.915, "label": "β"}, {"x": 757, "y": 0.915, "label": "β"}, {"x": 1704, "y": 0.198, "label": "β"}]},
         "mark": {"type": "text", "align": "left", "baseline": "alphabetic", "fontSize": 21, "fontStyle": "italic"},
         "encoding": {"x": {"field": "x", "type": "quantitative", "axis": null}, "y": {"field": "y", "type": "quantitative", "axis": null}, "text": {"field": "label"}}},
        {"data": {"values": [{"x": 358, "y": 0.33, "label": "h(R)"}]},
         "mark": {"type": "text", "align": "left", "baseline": "alphabetic", "angle": 270, "fontSize": 22, "fontStyle": "italic", "color": "#262626"},
         "encoding": {"x": {"field": "x", "type": "quantitative", "axis": null}, "y": {"field": "y", "type": "quantitative", "axis": null}, "text": {"field": "label"}}},
        {"data": {"values": [{"x": 358, "y": 0.484, "label": "[a.u.]"}]},
         "mark": {"type": "text", "align": "left", "baseline": "alphabetic", "angle": 270, "fontSize": 22, "color": "#262626"},
         "encoding": {"x": {"field": "x", "type": "quantitative", "axis": null}, "y": {"field": "y", "type": "quantitative", "axis": null}, "text": {"field": "label"}}}
      ]
    },
    {
      "width": 539, "height": 316,
      "resolve": {"axis": {"x": "independent", "y": "independent"}},
      "layer": [
        {"data": {"name": "sigB"}, "mark": {"type": "line", "color": "#9b9b9b", "strokeWidth": 1.8},
         "encoding": {
           "x": {"field": "t", "type": "quantitative", "scale": {"domain": [6, 10], "nice": false, "zero": false}, "axis": {"values": [6, 7, 8, 9, 10], "grid": true, "title": "Time [hour UTC]"}},
           "y": {"field": "p", "type": "quantitative", "scale": {"domain": [0, 60], "nice": false, "zero": false}, "axis": {"values": [0, 10, 20, 30, 40, 50, 60], "grid": true, "title": null}}}},
        {"data": {"name": "sigB"}, "mark": {"type": "line", "color": "#000000", "strokeWidth": 2.2},
         "encoding": {
           "x": {"field": "t", "type": "quantitative", "axis": {"orient": "top", "values": [6, 7, 8, 9, 10], "labels": false, "title": null}},
           "y": {"field": "pm", "type": "quantitative", "axis": {"orient": "right", "values": [0, 10, 20, 30, 40, 50, 60], "labels": false, "title": null}}}},
        {"data": {"values": [{"y": 8.8}]}, "mark": {"type": "rule", "color": "#000000", "strokeWidth": 2.5, "strokeDash": [7, 5]},
         "encoding": {"y": {"field": "y", "type": "quantitative", "axis": null}}},
        {"data": {"values": [{"x": 7.9, "x2": 8.15, "y": 4.55, "s": "pm"}, {"x": 8.57, "x2": 8.85, "y": 4.55, "s": "p"}, {"x": 9.24, "x2": 9.52, "y": 4.55, "s": "q"}]},
         "mark": {"type": "rule", "strokeWidth": 2.3},
         "encoding": {"x": {"field": "x", "type": "quantitative", "axis": null}, "x2": {"field": "x2"}, "y": {"field": "y", "type": "quantitative", "axis": null},
           "color": {"field": "s", "type": "nominal", "legend": null, "scale": {"domain": ["pm", "p", "q"], "range": ["#000000", "#9b9b9b", "#000000"]}},
           "strokeDash": {"field": "s", "type": "nominal", "legend": null, "scale": {"domain": ["pm", "p", "q"], "range": [[1, 0], [1, 0], [7, 5]]}}}},
        {"data": {"values": [{"x": 9.59, "y": 52.6, "label": "(b)"}]},
         "mark": {"type": "text", "align": "left", "baseline": "alphabetic", "fontSize": 22},
         "encoding": {"x": {"field": "x", "type": "quantitative", "axis": null}, "y": {"field": "y", "type": "quantitative", "axis": null}, "text": {"field": "label"}}},
        {"data": {"values": [{"x": 8.17, "y": 3.3, "label": "σ"}, {"x": 8.85, "y": 3.3, "label": "σ"}, {"x": 9.54, "y": 3.3, "label": "σ"}]},
         "mark": {"type": "text", "align": "left", "baseline": "alphabetic", "fontSize": 19, "fontStyle": "italic"},
         "encoding": {"x": {"field": "x", "type": "quantitative", "axis": null}, "y": {"field": "y", "type": "quantitative", "axis": null}, "text": {"field": "label"}}},
        {"data": {"values": [{"x": 8.235, "y": 5.9, "label": "P"}, {"x": 8.915, "y": 5.9, "label": "P"}, {"x": 9.605, "y": 5.9, "label": "Q"}, {"x": 8.3, "y": 8.2, "label": "-"}, {"x": 8.26, "y": 0.9, "label": "MLH"}, {"x": 8.94, "y": 0.9, "label": "MLH"}, {"x": 9.625, "y": 0.9, "label": "MLH"}]},
         "mark": {"type": "text", "align": "left", "baseline": "alphabetic", "fontSize": 15},
         "encoding": {"x": {"field": "x", "type": "quantitative", "axis": null}, "y": {"field": "y", "type": "quantitative", "axis": null}, "text": {"field": "label"}}},
        {"data": {"values": [{"x": 5.644, "y": 9.4, "label": "σ"}, {"x": 5.644, "y": 21.0, "label": "σ"}, {"x": 5.644, "y": 32.6, "label": "σ"}]},
         "mark": {"type": "text", "align": "left", "baseline": "alphabetic", "angle": 270, "fontSize": 22, "fontStyle": "italic", "color": "#262626"},
         "encoding": {"x": {"field": "x", "type": "quantitative", "axis": null}, "y": {"field": "y", "type": "quantitative", "axis": null}, "text": {"field": "label"}}},
        {"data": {"values": [{"x": 5.644, "y": 18.8, "label": ","}, {"x": 5.644, "y": 30.4, "label": ","}, {"x": 5.644, "y": 44.0, "label": "[m]"}]},
         "mark": {"type": "text", "align": "left", "baseline": "alphabetic", "angle": 270, "fontSize": 22, "color": "#262626"},
         "encoding": {"x": {"field": "x", "type": "quantitative", "axis": null}, "y": {"field": "y", "type": "quantitative", "axis": null}, "text": {"field": "label"}}},
        {"data": {"values": [{"x": 5.688, "y": 11.9, "label": "MLH"}, {"x": 5.688, "y": 23.5, "label": "MLH"}, {"x": 5.688, "y": 35.1, "label": "MLH"}, {"x": 5.57, "y": 11.8, "label": "P"}, {"x": 5.57, "y": 23.4, "label": "P"}, {"x": 5.57, "y": 35.0, "label": "Q"}, {"x": 5.53, "y": 14.0, "label": "-"}]},
         "mark": {"type": "text", "align": "left", "baseline": "alphabetic", "angle": 270, "fontSize": 17, "color": "#262626"},
         "encoding": {"x": {"field": "x", "type": "quantitative", "axis": null}, "y": {"field": "y", "type": "quantitative", "axis": null}, "text": {"field": "label"}}}
      ]
    },
    {
      "width": 539, "height": 316,
      "resolve": {"axis": {"x": "independent", "y": "independent"}},
      "layer": [
        {"data": {"name": "zC"}, "mark": {"type": "line", "strokeWidth": 2.2},
         "encoding": {
           "x": {"field": "t", "type": "quantitative", "scale": {"domain": [6, 10], "nice": false, "zero": false}, "axis": {"values": [6, 7, 8, 9, 10], "grid": true, "title": "Time [hour UTC]"}},
           "y": {"field": "h", "type": "quantitative", "scale": {"domain": [0, 1500], "nice": false, "zero": false}, "axis": {"values": [0, 250, 500, 750, 1000, 1250, 1500], "format": "d", "labelExpr": "datum.value % 500 === 0 ? datum.label : ''", "grid": true, "gridOpacity": {"condition": {"test": "datum.value % 500 === 0", "value": 1}, "value": 0}, "title": "Height [m]"}},
           "color": {"field": "s", "type": "nominal", "legend": null, "scale": {"domain": ["z1", "z1p", "z2p", "z2"], "range": ["#9b9b9b", "#9b9b9b", "#000000", "#000000"]}},
           "strokeDash": {"field": "s", "type": "nominal", "legend": null, "scale": {"domain": ["z1", "z1p", "z2p", "z2"], "range": [[1, 0], [5, 4], [5, 4], [1, 0]]}}}},
        {"data": {"values": [{"x": 7.85, "x2": 8.1, "y": 148, "s": "z1"}, {"x": 8.36, "x2": 8.63, "y": 148, "s": "z1p"}, {"x": 8.92, "x2": 9.19, "y": 148, "s": "z2p"}, {"x": 9.45, "x2": 9.72, "y": 148, "s": "z2"}]},
         "mark": {"type": "rule", "strokeWidth": 2.2},
         "encoding": {"x": {"field": "x", "type": "quantitative", "axis": {"orient": "top", "values": [6, 7, 8, 9, 10], "labels": false, "title": null}}, "x2": {"field": "x2"},
           "y": {"field": "y", "type": "quantitative", "axis": {"orient": "right", "values": [0, 250, 500, 750, 1000, 1250, 1500], "labels": false, "title": null}},
           "color": {"field": "s", "type": "nominal", "legend": null, "scale": {"domain": ["z1", "z1p", "z2p", "z2"], "range": ["#9b9b9b", "#9b9b9b", "#000000", "#000000"]}},
           "strokeDash": {"field": "s", "type": "nominal", "legend": null, "scale": {"domain": ["z1", "z1p", "z2p", "z2"], "range": [[1, 0], [5, 4], [5, 4], [1, 0]]}}}},
        {"data": {"values": [{"x": 9.59, "y": 1365, "label": "(c)"}]},
         "mark": {"type": "text", "align": "left", "baseline": "alphabetic", "fontSize": 22},
         "encoding": {"x": {"field": "x", "type": "quantitative", "axis": null}, "y": {"field": "y", "type": "quantitative", "axis": null}, "text": {"field": "label"}}},
        {"data": {"values": [{"x": 8.15, "y": 124, "label": "z"}, {"x": 8.66, "y": 124, "label": "z'"}, {"x": 9.2, "y": 124, "label": "z'"}, {"x": 9.76, "y": 124, "label": "z"}]},
         "mark": {"type": "text", "align": "left", "baseline": "alphabetic", "fontSize": 19},
         "encoding": {"x": {"field": "x", "type": "quantitative", "axis": null}, "y": {"field": "y", "type": "quantitative", "axis": null}, "text": {"field": "label"}}},
        {"data": {"values": [{"x": 8.225, "y": 77, "label": "1"}, {"x": 8.77, "y": 77, "label": "1"}, {"x": 9.32, "y": 77, "label": "2"}, {"x": 9.84, "y": 77, "label": "2"}]},
         "mark": {"type": "text", "align": "left", "baseline": "alphabetic", "fontSize": 15},
         "encoding": {"x": {"field": "x", "type": "quantitative", "axis": null}, "y": {"field": "y", "type": "quantitative", "axis": null}, "text": {"field": "label"}}}
      ]
    }
  ]
}
